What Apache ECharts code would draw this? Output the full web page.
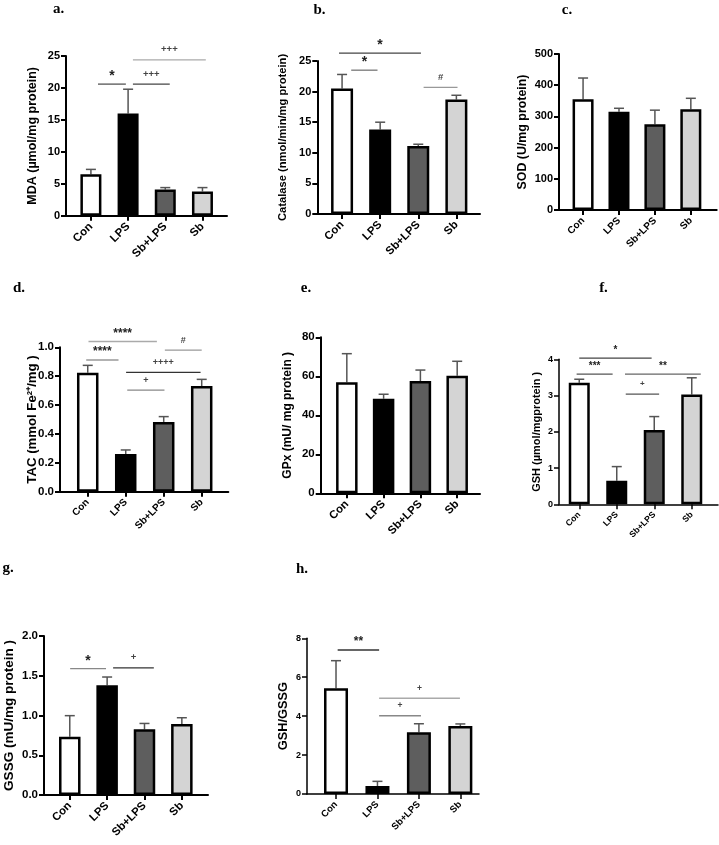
<!DOCTYPE html>
<html><head><meta charset="utf-8">
<script src="https://cdn.jsdelivr.net/npm/echarts@6/dist/echarts.min.js"></script>
<style>html,body{margin:0;padding:0;background:#fff}#c{width:719px;height:845px}</style>
</head><body><div id="c"></div>
<script>
// ---------- DATA ----------
const categories = ['Con', 'LPS', 'Sb+LPS', 'Sb'];

const mdaMean = [6.5, 16.0, 4.1, 3.8];
const mdaSem  = [0.75, 3.8, 0.3, 0.6];
const mdaSig  = [[0.19, 0.94, 20.6, '*'], [1.13, 2.12, 20.6, '+++'], [1.13, 3.09, 24.4, '+++']];

const catMean = [20.5, 13.8, 11.1, 18.7];
const catSem  = [2.3, 1.2, 0.3, 0.7];
const catSig  = [[0.24, 0.93, 23.5, '*'], [-0.08, 2.07, 26.3, '*'], [2.14, 3.03, 20.7, '#']];

const sodMean = [355, 315, 275, 323];
const sodSem  = [68, 11, 45, 35];
const sodSig  = [];

const tacMean = [0.824, 0.261, 0.483, 0.732];
const tacSem  = [0.051, 0.028, 0.037, 0.046];
const tacSig  = [[0.02, 1.82, 1.04, '****'], [-0.04, 0.81, 0.912, '****'], [2.03, 3.0, 0.981, '#'],
                 [1.01, 2.97, 0.827, '++++'], [1.04, 2.02, 0.704, '+']];

const gpxMean = [56.9, 48.5, 57.6, 60.3];
const gpxSem  = [14.7, 2.3, 5.6, 7.4];
const gpxSig  = [];

const gshMean = [3.35, 0.65, 2.05, 3.03];
const gshSem  = [0.1, 0.39, 0.37, 0.46];
const gshSig  = [[0.0, 1.93, 4.03, '*'], [-0.07, 0.89, 3.59, '***'], [1.22, 3.24, 3.59, '**'], [1.24, 2.13, 3.04, '+']];

const gssgMean = [0.733, 1.38, 0.826, 0.893];
const gssgSem  = [0.265, 0.104, 0.074, 0.079];
const gssgSig  = [[0.01, 0.97, 1.589, '*'], [1.16, 2.25, 1.6, '+']];

const ratioMean = [5.43, 0.41, 3.17, 3.49];
const ratioSem  = [1.42, 0.24, 0.44, 0.11];
const ratioSig  = [[0.04, 1.04, 7.4, '**'], [1.04, 2.05, 4.02, '+'], [1.04, 2.99, 4.92, '+']];

const yTicksMax = [25, 25, 500, 1.0, 80, 4, 2.0, 8];
const yTicksStep = [5, 5, 100, 0.2, 20, 1, 0.5, 2];

// ---------- STYLE / LAYOUT ----------
const FONT = "'Liberation Sans', Arial, sans-serif";
const barColors = ['#ffffff', '#000000', '#5e5e5e', '#d4d4d4'];
const sigColors = {
  a: ['#555', '#444', '#aaa'],
  b: ['#777', '#444', '#999'],
  c: [],
  d: ['#aaa', '#999', '#999', '#333', '#888'],
  e: [],
  f: ['#444', '#555', '#666', '#555'],
  g: ['#888', '#333'],
  h: ['#333', '#888', '#aaa']
};
const panels = [
  {k:'a', title:'a.', tx:58.5, ty:9.5, mean:mdaMean, sem:mdaSem, sig:mdaSig, yName:'MDA (µmol/mg protein)', dec:0,
   left:66, right:227, top:56, bottom:215.7, xmin:-0.67, xmax:3.66, barW:21, gap:27, nameSize:12.5, tick:11, cat:11.5, sigSize:[14,9.5], axW:2},
  {k:'b', title:'b.', tx:319.5, ty:10, mean:catMean, sem:catSem, sig:catSig, yName:'Catalase (nmol/min/mg protein)', dec:0,
   left:317.3, right:480, top:61, bottom:214, xmin:-0.65, xmax:3.62, barW:22, gap:29, nameSize:11.2, tick:11, cat:11.3, sigSize:[14,9.5], axW:2},
  {k:'c', title:'c.', tx:567, ty:10, mean:sodMean, sem:sodSem, sig:sodSig, yName:'SOD (U/mg protein)', dec:0,
   left:559, right:716.7, top:54, bottom:210, xmin:-0.67, xmax:3.72, barW:21, gap:30, nameSize:12.4, tick:11, cat:10, sigSize:[14,9.5], axW:2},
  {k:'d', title:'d.', tx:19, ty:288.5, mean:tacMean, sem:tacSem, sig:tacSig, yName:'TAC (mmol Fe²⁺/mg )', dec:1,
   left:60, right:228.3, top:347.3, bottom:491.7, xmin:-0.73, xmax:3.70, barW:21.5, gap:21, nameSize:13.2, tick:11.5, cat:10, sigSize:[12,9], axW:2},
  {k:'e', title:'e.', tx:306, ty:288.5, mean:gpxMean, sem:gpxSem, sig:gpxSig, yName:'GPx (mU/ mg protein )', dec:0,
   left:320.7, right:480, top:337.3, bottom:493.3, xmin:-0.71, xmax:3.62, barW:21.5, gap:27, nameSize:12, tick:11.5, cat:11.3, sigSize:[14,9.5], axW:2},
  {k:'f', title:'f.', tx:603.5, ty:288.5, mean:gshMean, sem:gshSem, sig:gshSig, yName:'GSH (µmol/mgprotein )', dec:0,
   left:559, right:718, top:359.3, bottom:504.3, xmin:-0.54, xmax:3.70, barW:21, gap:17, nameSize:11, tick:9, cat:8.6, sigSize:[10,8], axW:1.5},
  {k:'g', title:'g.', tx:8, ty:567.7, mean:gssgMean, sem:gssgSem, sig:gssgSig, yName:'GSSG (mU/mg protein )', dec:1,
   left:44, right:208, top:636, bottom:795, xmin:-0.69, xmax:3.70, barW:21.5, gap:28, nameSize:13.5, tick:11.5, cat:11.3, sigSize:[14,9.5], axW:2},
  {k:'h', title:'h.', tx:302, ty:569, mean:ratioMean, sem:ratioSem, sig:ratioSig, yName:'GSH/GSSG', dec:0,
   left:307, right:479, top:638.3, bottom:794, xmin:-0.70, xmax:3.45, barW:24, gap:17, nameSize:12.8, tick:9, cat:9.5, sigSize:[12,8.5], axW:1.5}
];

const grids = [], xAxes = [], yAxes = [], series = [], graphics = [];
panels.forEach((p, i) => {
  grids.push({left:p.left, top:p.top, width:p.right - p.left, height:p.bottom - p.top, containLabel:false});
  xAxes.push({
    gridIndex:i, type:'value', min:p.xmin, max:p.xmax,
    axisLine:{show:true, onZero:false, lineStyle:{color:'#000', width:p.axW}},
    axisTick:{show:true, customValues:[0,1,2,3], length:5, lineStyle:{color:'#000', width:p.axW}},
    axisLabel:{show:true, customValues:[0,1,2,3], rotate:45, margin:9, color:'#000',
      fontFamily:FONT, fontWeight:'bold', fontSize:p.cat,
      formatter:(v) => categories[Math.round(v)] || ''},
    splitLine:{show:false}
  });
  yAxes.push({
    gridIndex:i, type:'value', min:0, max:yTicksMax[i], interval:yTicksStep[i],
    name:p.yName, nameLocation:'middle', nameGap:p.gap, nameRotate:90, nameMoveOverlap:false,
    nameTextStyle:{fontFamily:FONT, fontWeight:'bold', fontSize:p.nameSize, color:'#000'},
    axisLine:{show:true, onZero:false, lineStyle:{color:'#000', width:p.axW}},
    axisTick:{show:true, length:5, lineStyle:{color:'#000', width:p.axW}},
    axisLabel:{color:'#000', fontFamily:FONT, fontWeight:'bold', fontSize:p.tick, margin:6,
      formatter:(v) => v.toFixed(p.dec)},
    splitLine:{show:false}
  });
  series.push({
    type:'bar', xAxisIndex:i, yAxisIndex:i, barWidth:p.barW, z:3,
    itemStyle:{borderColor:'#000', borderWidth:2.5},
    data:p.mean.map((v, j) => ({value:[j, v], itemStyle:{color:barColors[j]}})),
    silent:true, animation:false
  });
  series.push({
    type:'custom', xAxisIndex:i, yAxisIndex:i, z:2, silent:true, animation:false,
    data:p.mean.map((v, j) => [j, v, v + p.sem[j]]),
    encode:{x:0, y:[1,2]},
    renderItem:(params, api) => {
      const x = api.value(0);
      const b = api.coord([x, api.value(1)]);
      const t = api.coord([x, api.value(2)]);
      const cap = 5;
      const st = {stroke:'#555', lineWidth:1.5};
      return {type:'group', children:[
        {type:'line', shape:{x1:b[0], y1:b[1], x2:t[0], y2:t[1]}, style:st},
        {type:'line', shape:{x1:t[0]-cap, y1:t[1], x2:t[0]+cap, y2:t[1]}, style:st}
      ]};
    }
  });
  if (p.sig.length) {
    const cols = sigColors[p.k];
    series.push({
      type:'custom', xAxisIndex:i, yAxisIndex:i, z:4, silent:true, animation:false, clip:false,
      data:p.sig.map(s => [s[0], s[2], s[1]]),
      encode:{x:[0,2], y:1},
      renderItem:(params, api) => {
        const s = p.sig[params.dataIndex];
        const a = api.coord([s[0], s[2]]);
        const b = api.coord([s[1], s[2]]);
        const isStar = s[3].indexOf('*') >= 0;
        const col = cols[params.dataIndex] || '#555';
        return {type:'group', children:[
          {type:'line', shape:{x1:a[0], y1:a[1], x2:b[0], y2:b[1]}, style:{stroke:col, lineWidth:1.3}},
          {type:'text', x:(a[0] + b[0]) / 2, y:a[1] - (isStar ? 8 : 10),
           style:{text:s[3], fill:isStar ? '#222' : '#444', font:'bold ' + (isStar ? p.sigSize[0] : p.sigSize[1]) + 'px ' + FONT,
                  align:'center', verticalAlign:'middle'}}
        ]};
      }
    });
  }
  graphics.push({type:'text', x:p.tx, y:p.ty,
    style:{text:p.title, font:"bold 15px 'Liberation Serif', 'Times New Roman', serif", fill:'#000',
           align:'center', verticalAlign:'middle'}});
});

const chart = echarts.init(document.getElementById('c'), null, {renderer:'canvas'});
chart.setOption({
  animation:false,
  backgroundColor:'#fff',
  grid:grids, xAxis:xAxes, yAxis:yAxes, series:series, graphic:graphics
});
</script>
</body></html>
